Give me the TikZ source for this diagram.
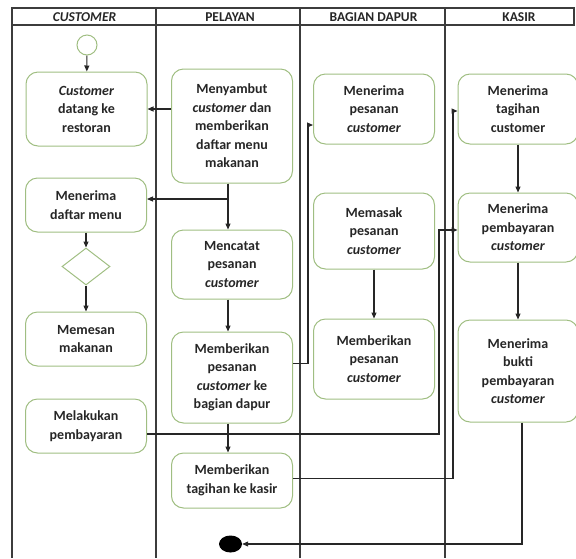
\documentclass[tikz,border=0pt]{standalone}
\usepackage{fontspec}
\setmainfont{Carlito}
\usetikzlibrary{arrows.meta,shapes.geometric}
\definecolor{boxgreen}{RGB}{160,190,130}
\definecolor{lanegray}{RGB}{60,60,60}

\begin{document}
\begin{tikzpicture}[x=1pt,y=-1pt,
    act/.style={draw=boxgreen,line width=1pt,rounded corners=12pt,minimum width=121pt,inner sep=2pt,align=center,font=\fontsize{14}{18.5}\selectfont\bfseries,text=black!85},
    conn/.style={line width=1.1pt,draw=black!85,-{Triangle[length=6pt,width=5pt]}},
    lane/.style={line width=1.3pt,draw=lanegray},
    head/.style={font=\fontsize{13.5}{16}\selectfont\bfseries,text=black!85}]
    \useasboundingbox (0,0) rectangle (576,558);

    % Draw the swimlanes
    \draw[lane] (12,8) rectangle (574,25);
    \draw[lane] (12,8) -- (12,558);
    \foreach \x in {156,300,445}
        \draw[lane] (\x,8) -- (\x,558);
    \node[head] (hcust) at (84.5,17) {\textit{CUSTOMER}};
    \node[head] (hpel) at (230,17) {PELAYAN};
    \node[head] (hdapur) at (373.5,17) {BAGIAN DAPUR};
    \node[head] (hkasir) at (519,17) {KASIR};

    % Customer lane
    \node[circle,draw=boxgreen,line width=1pt,minimum size=20pt,inner sep=0pt] (mulai) at (87,45) {};
    \node[act,minimum height=74pt] (datang) at (86.5,109) {\textit{Customer}\\datang ke\\restoran};
    \node[act,minimum height=54pt] (daftar) at (86,205) {Menerima\\daftar menu};
    \node[diamond,draw=boxgreen,line width=1pt,minimum width=48pt,minimum height=37pt,inner sep=0pt] (pilih) at (86,266.5) {};
    \node[act,minimum height=54pt] (pesan) at (86,339) {Memesan\\makanan};
    \node[act,minimum height=54pt] (bayar) at (86,426) {Melakukan\\pembayaran};

    % Pelayan lane
    \node[act,minimum height=114pt] (sambut) at (232,126) {Menyambut\\\textit{customer} dan\\memberikan\\daftar menu\\makanan};
    \node[act,minimum height=69pt] (catat) at (232,264.5) {Mencatat\\pesanan\\\textit{customer}};
    \node[act,minimum height=91pt] (kirim) at (232,377.5) {Memberikan\\pesanan\\\textit{customer} ke\\bagian dapur};
    \node[act,minimum height=55pt] (tagih) at (232,480.5) {Memberikan\\tagihan ke kasir};
    \node[ellipse,fill=black,minimum width=23pt,minimum height=17pt,inner sep=0pt] (selesai) at (230.5,544) {};

    % Bagian dapur lane
    \node[act,minimum height=70pt] (terimapesan) at (374,109) {Menerima\\pesanan\\\textit{customer}};
    \node[act,minimum height=76pt] (masak) at (374,231) {Memasak\\pesanan\\\textit{customer}};
    \node[act,minimum height=80pt] (antar) at (374,359) {Memberikan\\pesanan\\\textit{customer}};

    % Kasir lane
    \node[act,minimum height=70pt,minimum width=120pt] (terimatagih) at (518,109) {Menerima\\tagihan\\customer};
    \node[act,minimum height=69pt,minimum width=120pt] (terimabayar) at (518,227.5) {Menerima\\pembayaran\\\textit{customer}};
    \node[act,minimum height=102pt,minimum width=120pt] (bukti) at (518,371) {Menerima\\bukti\\pembayaran\\\textit{customer}};

    % Bends of the long connectors
    \coordinate (jbayar) at (439,230);
    \coordinate (jtagih) at (453,111);

    % Draw the flow
    \draw[conn] (mulai) -- (datang);
    \draw[conn] (sambut.west |- datang.east) -- (datang.east);
    \draw[conn] ([xshift=-4pt]sambut.south) |- ([yshift=6pt]daftar.east);
    \draw[conn] ([xshift=-4pt]sambut.south) -- ([xshift=-4pt]catat.north);
    \draw[conn] (daftar) -- (pilih);
    \draw[conn] (pilih) -- (pesan);
    \draw[conn] ([xshift=-4pt]catat.south) -- ([xshift=-4pt]kirim.north);
    \draw[conn] ([xshift=-4pt]kirim.south) -- ([xshift=-4pt]tagih.north);
    \draw[conn] ([yshift=14pt]kirim.east) -- ++(15,0) |- ([yshift=-16pt]terimapesan.west);
    \draw[conn] (masak) -- (antar);
    \draw[conn] ([yshift=-8pt]bayar.east) -| (jbayar) -- (jbayar -| terimabayar.west);
    \draw[conn] ([yshift=2pt]tagih.east) -| (jtagih) -- (jtagih -| terimatagih.west);
    \draw[conn] (terimatagih) -- (terimabayar);
    \draw[conn] (terimabayar) -- (bukti);
    \draw[conn] ([xshift=4pt]bukti.south) |- (selesai.east);
\end{tikzpicture}
\end{document}
